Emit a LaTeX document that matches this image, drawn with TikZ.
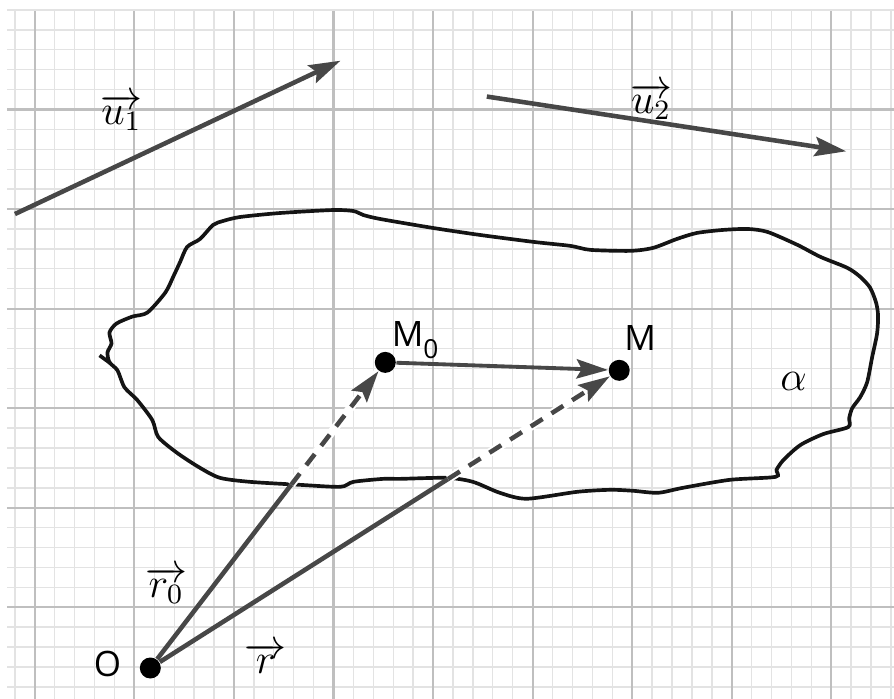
\documentclass[tikz,border=0pt]{standalone}
\usepackage{fontspec}
\newfontfamily\labelfont{Open Sans}
\usetikzlibrary{arrows.meta,calc}
\definecolor{MajorClr}{rgb}{0.75,0.75,0.75}
\definecolor{MinorClr}{rgb}{0.89,0.89,0.89}
\definecolor{VecClr}{rgb}{0.28,0.28,0.28}
\definecolor{CurveClr}{rgb}{0.08,0.08,0.08}

\begin{document}
\begin{tikzpicture}[
  vec/.style={draw=VecClr,line width=1.3pt,-{Stealth[length=9pt,width=5.5pt,inset=1.5pt]}},
  seg/.style={draw=VecClr,line width=1.3pt},
  gap/.style={draw=white,line width=2.4pt},
  hid/.style={vec,dash pattern=on 4pt off 3pt},
  dot/.style={circle,fill=black,inner sep=0pt,minimum size=6pt},
  lbl/.style={font=\labelfont\fontsize{10}{12}\selectfont},
  mth/.style={font=\large}]

\useasboundingbox (-0.35,-0.92) rectangle (8.63,6.10);
\draw[MinorClr,line width=0.4pt,step=0.2] (-0.28,-0.92) grid (8.63,6.0);
\draw[MajorClr,line width=0.6pt,step=1] (-0.28,-0.92) grid (8.63,5.99);

\draw[CurveClr,line width=1.05pt] plot[smooth cycle,tension=0.45] coordinates {
  (0.75,2.46) (0.73,2.56) (0.77,2.65) (0.75,2.76) (0.82,2.85) (0.98,2.92)
  (1.13,2.96) (1.31,3.16) (1.39,3.32) (1.46,3.47) (1.53,3.62) (1.66,3.70)
  (1.79,3.84) (1.89,3.88) (2.06,3.92) (2.46,3.96) (2.99,3.99) (3.20,3.98)
  (3.30,3.94) (3.47,3.90) (4.00,3.81) (4.47,3.74) (5.01,3.67) (5.38,3.63)
  (5.58,3.59) (5.98,3.58) (6.21,3.61) (6.45,3.70) (6.65,3.76) (6.91,3.79)
  (7.16,3.80) (7.36,3.77) (7.66,3.64) (7.89,3.52) (8.16,3.41) (8.29,3.32)
  (8.39,3.21) (8.45,3.06) (8.47,2.93) (8.46,2.75) (8.41,2.51) (8.36,2.26)
  (8.29,2.11) (8.21,2.00) (8.18,1.90) (8.17,1.81) (7.92,1.74) (7.69,1.63)
  (7.52,1.48) (7.45,1.38) (7.44,1.31) (6.98,1.28) (6.51,1.20) (6.26,1.15)
  (6.01,1.17) (5.78,1.18) (5.45,1.16) (4.94,1.09) (4.67,1.15) (4.40,1.26)
  (4.14,1.30) (3.67,1.29) (3.50,1.29) (3.20,1.26) (3.07,1.21) (2.66,1.23)
  (2.16,1.26) (1.86,1.30) (1.66,1.40) (1.43,1.55) (1.24,1.71) (1.18,1.88)
  (1.03,2.08) (0.90,2.21) (0.83,2.38)};
\draw[CurveClr,line width=1.05pt] (0.65,2.53) -- (0.76,2.45);

\coordinate (U1a) at (-0.20,3.95);
\coordinate (U1b) at (3.07,5.49);
\coordinate (U2a) at (4.54,5.13);
\coordinate (U2b) at (8.15,4.58);
\draw[vec] (U1a) -- (U1b);
\draw[vec] (U2a) -- (U2b);

\node[dot] (O) at (1.16,-0.61) {};
\node[dot] (M0) at (3.52,2.46) {};
\node[dot] (M) at (5.87,2.38) {};

\coordinate (A0) at ($(O)!0.6!(M0)$);
\coordinate (A) at ($(O)!0.635!(M)$);

\draw[seg] (O) -- (A0);
\draw[gap] (A0) -- (M0);
\draw[hid] (A0) -- (M0);
\draw[seg] (O) -- (A);
\draw[gap] (A) -- (M);
\draw[hid] (A) -- (M);
\draw[vec,line width=1.1pt] (M0) -- (M);

\node[lbl] (lO) at (0.73,-0.57) {O};
\node[lbl] (lM0) at (3.82,2.68) {M\raisebox{-3.5pt}{\fontsize{7.5}{8}\selectfont 0}};
\node[lbl] (lM) at (6.08,2.70) {M};
\node[mth] (lal) at (7.62,2.27) {$\alpha$};
\node[mth] (lu1) at (0.87,4.97) {$\overrightarrow{u_1}$};
\node[mth] (lu2) at (6.19,5.08) {$\overrightarrow{u_2}$};
\node[mth] (lr0) at (1.32,0.22) {$\overrightarrow{r_0}$};
\node[mth] (lr) at (2.32,-0.51) {$\overrightarrow{r}$};

\end{tikzpicture}
\end{document}
